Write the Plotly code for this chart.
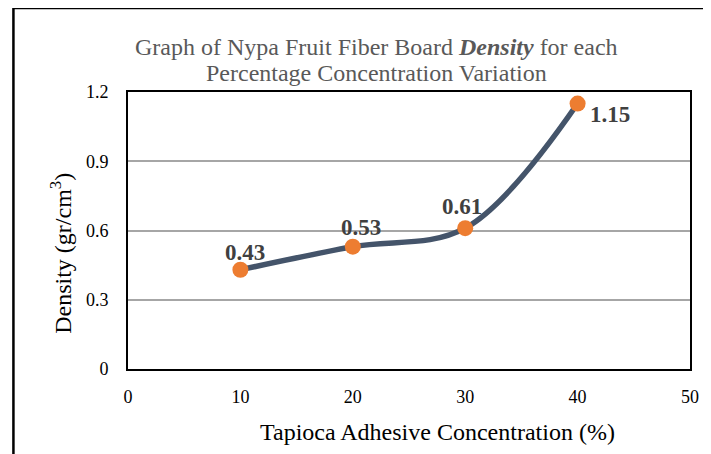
import plotly.graph_objects as go

concentration = [10, 20, 30, 40]
density = [0.43, 0.53, 0.61, 1.15]
labels = ["0.43", "0.53", "0.61", "1.15"]
x_ticks = [0, 10, 20, 30, 40, 50]
y_ticks = [0, 0.3, 0.6, 0.9, 1.2]
y_tick_text = ["0", "0.3", "0.6", "0.9", "1.2"]

FONT = "Liberation Serif, Times New Roman, serif"
OFF = 8  # page body margin
W, H = 711 - OFF, 454 - OFF
PX0, PX1, PY0, PY1 = 128 - OFF, 697 - OFF, 92 - OFF, 369 - OFF  # plot box in figure px
L, R, T, B = PX0, W - PX1, PY0, H - PY1
PW, PH = PX1 - PX0, PY1 - PY0


def px(xpage):
    return (xpage - OFF - PX0) / PW


def py(ypage):
    return (PY1 - (ypage - OFF)) / PH


fig = go.Figure()
fig.add_trace(go.Scatter(
    x=concentration, y=density, mode="lines+markers",
    line=dict(color="#44546A", width=5.5, shape="spline", smoothing=1.0),
    marker=dict(color="#ED7D31", size=16, line=dict(width=0)),
    hoverinfo="skip", showlegend=False,
))

shifts = [(5, 17), (8, 19), (-3, 22), (32, -11)]
for xv, yv, t, (dx, dy) in zip(concentration, density, labels, shifts):
    fig.add_annotation(x=xv, y=yv, text=f"<b>{t}</b>", showarrow=False,
                       xshift=dx, yshift=dy,
                       font=dict(family=FONT, size=23, color="#404040"))

# outer border
fig.add_shape(type="rect", xref="paper", yref="paper",
              x0=px(12), x1=px(740), y0=py(480), y1=py(8),
              line=dict(color="black", width=2.5), layer="below")

title_lines = ["Graph of Nypa Fruit Fiber Board <b><i>Density</i></b> for each",
               "Percentage Concentration Variation"]
for line, yc in zip(title_lines, [47, 73]):
    fig.add_annotation(xref="paper", yref="paper", x=px(380), y=py(yc),
                       text=line, showarrow=False, xanchor="center", yanchor="middle",
                       font=dict(family=FONT, size=24, color="#595959"))

fig.add_annotation(xref="paper", yref="paper", x=px(441), y=py(432),
                   text="Tapioca Adhesive Concentration (%)", showarrow=False,
                   xanchor="center", yanchor="middle",
                   font=dict(family=FONT, size=24, color="black"))
fig.add_annotation(xref="paper", yref="paper", x=px(60), y=py(253),
                   text="Density (gr/cm<sup>3</sup>)", showarrow=False, textangle=-90,
                   xanchor="center", yanchor="middle",
                   font=dict(family=FONT, size=24, color="black"))

fig.update_layout(
    width=W, height=H, margin=dict(l=L, r=R, t=T, b=B),
    paper_bgcolor="white", plot_bgcolor="white",
    xaxis=dict(range=[0, 50], tickvals=x_ticks, showgrid=False, zeroline=False,
               showline=True, linecolor="black", linewidth=2, mirror=True,
               ticks="", ticklabelstandoff=10,
               tickfont=dict(family=FONT, size=18, color="black")),
    yaxis=dict(range=[0, 1.2], tickvals=y_ticks, ticktext=y_tick_text,
               showgrid=True, gridcolor="#A6A6A6", gridwidth=2, zeroline=False,
               showline=True, linecolor="black", linewidth=2, mirror=True,
               ticks="", ticklabelstandoff=14,
               tickfont=dict(family=FONT, size=18, color="black")),
)
fig.write_html("out.html")
